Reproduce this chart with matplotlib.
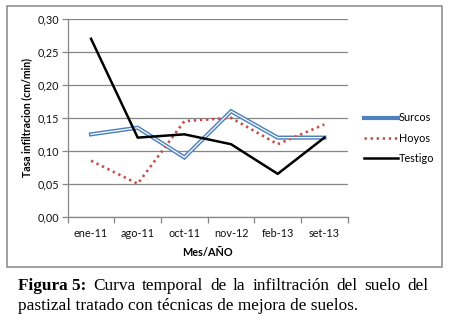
import matplotlib
matplotlib.use("Agg")
import matplotlib.pyplot as plt
from matplotlib.patches import Rectangle

categories = ["ene-11", "ago-11", "oct-11", "nov-12", "feb-13", "set-13"]
surcos = [0.125, 0.135, 0.09, 0.16, 0.12, 0.12]
hoyos = [0.085, 0.05, 0.145, 0.15, 0.11, 0.14]
testigo = [0.27, 0.12, 0.125, 0.11, 0.065, 0.12]
yticks = [0.0, 0.05, 0.10, 0.15, 0.20, 0.25, 0.30]
ytick_labels = ["0,00", "0,05", "0,10", "0,15", "0,20", "0,25", "0,30"]

W, H = 450, 320
fig = plt.figure(figsize=(4.5, 3.2), dpi=100)
fig.patch.set_facecolor("white")

# chart border
fig.patches.append(Rectangle((6.5 / W, 1 - 266.5 / H), (441.5 - 6.5) / W, (266.5 - 5.5) / H,
                             transform=fig.transFigure, fill=False, edgecolor="#868686",
                             linewidth=1.1))

ax = fig.add_axes([67.7 / W, 1 - 216.7 / H, (347.7 - 67.7) / W, (216.7 - 19) / H])
x = list(range(len(categories)))

ax.plot(x, surcos, color="#4F81BD", lw=3.0, solid_joinstyle="miter", label="Surcos", zorder=3)
ax.plot(x, surcos, color="white", lw=0.9, solid_joinstyle="miter", zorder=3.1)
ax.plot(x, hoyos, color="#C0504D", lw=1.9, linestyle=(0, (0.9, 1.4)), dash_capstyle="butt",
        label="Hoyos", zorder=3)
ax.plot(x, testigo, color="black", lw=1.8, label="Testigo", zorder=4)

ax.set_xlim(-0.5, len(categories) - 0.5)
ax.set_ylim(0, 0.30)
ax.set_yticks(yticks)
ax.set_yticklabels(ytick_labels)
ax.set_xticks(x)
ax.set_xticklabels(categories)
ax.set_xticks([i - 0.5 for i in range(len(categories) + 1)], minor=True)
ax.grid(axis="y", color="#868686", lw=0.9)
ax.set_axisbelow(True)
for s in ["top", "right"]:
    ax.spines[s].set_visible(False)
for s in ["left", "bottom"]:
    ax.spines[s].set_color("#868686")
    ax.spines[s].set_linewidth(0.9)
fs = 7.8
ax.tick_params(axis="x", which="major", length=0, pad=8, labelsize=fs, labelcolor="#111111")
ax.tick_params(axis="x", which="minor", length=4, color="#868686", width=0.9)
ax.tick_params(axis="y", length=4, color="#868686", width=0.9, pad=2, labelsize=fs,
               labelcolor="#111111")
for lab in ax.get_xticklabels() + ax.get_yticklabels():
    lab.set_family("Lato")

ax.set_ylabel("Tasa infiltracion (cm/min)", fontsize=7.6, fontweight="bold", family="Lato",
              labelpad=4)
ax.set_xlabel("Mes/AÑO", fontsize=7.8, fontweight="bold", family="Lato", labelpad=6)

leg = ax.legend(loc="center left", bbox_to_anchor=(354 / W, 1 - 138 / H),
                bbox_transform=fig.transFigure, frameon=False, handlelength=3.2,
                handletextpad=0.05, labelspacing=0.85,
                prop={"family": "Lato", "size": fs})

# caption (first line justified)
cap_fs = 12.4
fig.canvas.draw()
r = fig.canvas.get_renderer()
line1 = [("Figura 5:", "bold")] + [(w, "normal") for w in
                                   "Curva temporal de la infiltración del suelo del".split()]
x_left, x_right = 18.0, 428.0
y1 = 1 - 289.5 / H
y2 = 1 - 310.5 / H
objs = []
total = 0.0
for word, weight in line1:
    t = fig.text(0, y1, word, fontsize=cap_fs, fontweight=weight,
                 family="Liberation Serif", va="baseline")
    w = t.get_window_extent(renderer=r).width
    objs.append((t, w))
    total += w
gap = (x_right - x_left - total) / (len(objs) - 1)
cx = x_left
for t, w in objs:
    t.set_x(cx / W)
    cx += w + gap
fig.text(x_left / W, y2, "pastizal tratado con técnicas de mejora de suelos.",
         fontsize=cap_fs, family="Liberation Serif", va="baseline")

fig.savefig("out.png", dpi=100)
